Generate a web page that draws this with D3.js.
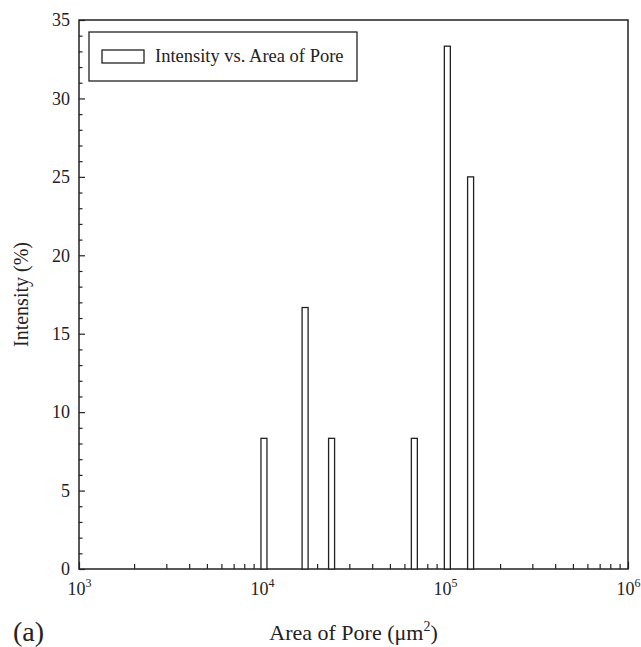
<!DOCTYPE html>
<html>
<head>
<meta charset="utf-8">
<script src="https://cdn.jsdelivr.net/npm/d3@7"></script>
<style>
  body { margin: 0; background: #fff; }
  svg text { font-family: "Liberation Serif", "Times New Roman", serif; }
</style>
</head>
<body>
<svg id="chart" width="641" height="647"></svg>
<script>
// data
const poreAreas = [10250, 17200, 24000, 68000, 103000, 138000]; // um^2
const intensities = [8.33, 16.67, 8.33, 8.33, 33.33, 25];     // %
const yTickValues = [0, 5, 10, 15, 20, 25, 30, 35];
const xTickExponents = [3, 4, 5, 6];
const legendLabel = "Intensity vs. Area of Pore";

(() => {
    const svg = d3.select("svg#chart");
    const margin = { top: 20, right: 13, bottom: 78, left: 79 };
    const width = +svg.attr("width");
    const height = +svg.attr("height");
    const plotW = width - margin.left - margin.right;
    const plotH = height - margin.top - margin.bottom;
    const ink = "#222";

    const x = d3.scaleLog().domain([1e3, 1e6]).range([0, plotW]);
    const y = d3.scaleLinear().domain([0, 35]).range([plotH, 0]);

    const g = svg.append("g").attr("transform", `translate(${margin.left},${margin.top})`);

    // minor ticks
    const xMinor = [];
    [1e3, 1e4, 1e5].forEach(d => { for (let k = 2; k <= 9; k++) xMinor.push(d * k); });
    const yMinor = d3.range(0, 35).filter(v => v % 5 !== 0);

    g.append("g")
        .attr("transform", `translate(0,${plotH})`)
        .call(d3.axisBottom(x).tickValues(xMinor).tickSize(-5).tickFormat(""))
        .call(a => a.select(".domain").remove());
    g.append("g")
        .call(d3.axisLeft(y).tickValues(yMinor).tickSize(-3.5).tickFormat(""))
        .call(a => a.select(".domain").remove());

    // major x ticks with superscript labels
    const xAxis = g.append("g")
        .attr("transform", `translate(0,${plotH})`)
        .call(d3.axisBottom(x).tickValues(xTickExponents.map(e => Math.pow(10, e))).tickSize(-7).tickFormat(""));
    xAxis.select(".domain").remove();
    xAxis.selectAll(".tick").each(function (d) {
        const t = d3.select(this).append("text")
            .attr("y", 26)
            .attr("fill", ink)
            .attr("text-anchor", "middle")
            .attr("font-size", 18);
        t.append("tspan").text("10");
        t.append("tspan").attr("dy", -8).attr("font-size", 12).text(Math.round(Math.log10(d)));
    });

    // major y ticks
    const yAxis = g.append("g")
        .call(d3.axisLeft(y).tickValues(yTickValues).tickSize(-6).tickPadding(9));
    yAxis.select(".domain").remove();
    yAxis.selectAll("text").attr("font-size", 18).attr("fill", ink);

    g.selectAll("g").attr("font-family", null).attr("font-size", null);
    g.selectAll(".tick line").attr("stroke", ink).attr("stroke-width", 1.2);

    // frame
    g.append("rect")
        .attr("width", plotW)
        .attr("height", plotH)
        .attr("fill", "none")
        .attr("stroke", ink)
        .attr("stroke-width", 1.5);

    // bars (outlined, fixed pixel width centred on value)
    const barW = 6;
    g.selectAll("rect.bar")
        .data(poreAreas.map((a, i) => ({ area: a, value: intensities[i] })))
        .enter()
        .append("rect")
        .attr("class", "bar")
        .attr("x", d => x(d.area) - barW / 2)
        .attr("y", d => y(d.value))
        .attr("width", barW)
        .attr("height", d => plotH - y(d.value))
        .attr("fill", "#fff")
        .attr("stroke", ink)
        .attr("stroke-width", 1.3);

    // legend
    const legend = g.append("g").attr("transform", "translate(10,12)");
    legend.append("rect")
        .attr("width", 268).attr("height", 49)
        .attr("fill", "#fff").attr("stroke", ink).attr("stroke-width", 1.3);
    legend.append("rect")
        .attr("x", 13).attr("y", 18).attr("width", 42).attr("height", 13)
        .attr("fill", "#fff").attr("stroke", ink).attr("stroke-width", 1.3);
    legend.append("text")
        .attr("x", 66).attr("y", 30)
        .attr("font-size", 18.5).attr("fill", ink)
        .text(legendLabel);

    // axis titles
    const xTitle = svg.append("text")
        .attr("x", margin.left + plotW / 2)
        .attr("y", 640)
        .attr("text-anchor", "middle")
        .attr("font-size", 22)
        .attr("fill", ink);
    xTitle.append("tspan").text("Area of Pore (\u03bcm");
    xTitle.append("tspan").attr("dy", -9).attr("font-size", 14).text("2");
    xTitle.append("tspan").attr("dy", 9).text(")");

    svg.append("text")
        .attr("transform", `translate(28,${margin.top + plotH / 2}) rotate(-90)`)
        .attr("text-anchor", "middle")
        .attr("font-size", 20)
        .attr("fill", ink)
        .text("Intensity (%)");

    svg.append("text")
        .attr("x", 13).attr("y", 641)
        .attr("font-size", 28)
        .attr("fill", ink)
        .text("(a)");
})();
</script>
</body>
</html>
